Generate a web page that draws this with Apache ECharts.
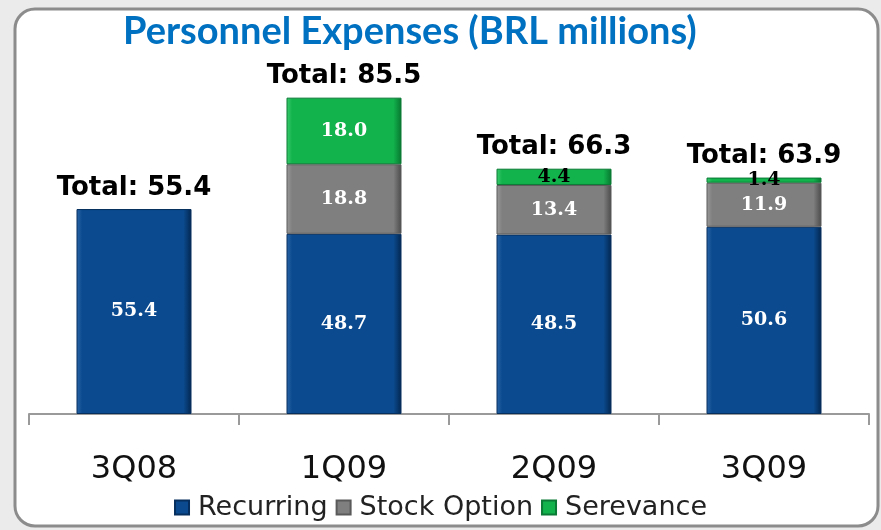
<!DOCTYPE html>
<html>
<head>
<meta charset="utf-8">
<script src="https://cdn.jsdelivr.net/npm/echarts@6/dist/echarts.min.js"></script>
<style>
  html, body { margin: 0; padding: 0; background: #ebebeb; }
  #chart { width: 881px; height: 530px; }
</style>
</head>
<body>
<div id="chart"></div>
<script>
// Personnel expenses, BRL millions
const categories = ['3Q08', '1Q09', '2Q09', '3Q09'];
const recurring = [55.4, 48.7, 48.5, 50.6];
const stockOption = [null, 18.8, 13.4, 11.9];
const serevance = [null, 18.0, 4.4, 1.4];
const totals = [55.4, 85.5, 66.3, 63.9];

// bevel-ish look: light left edge, dark right edge
function bevel(light, main, dark) {
  return {
    type: 'linear', x: 0, y: 0, x2: 1, y2: 0,
    colorStops: [
      { offset: 0, color: light },
      { offset: 0.05, color: main },
      { offset: 0.93, color: main },
      { offset: 1, color: dark }
    ]
  };
}

const valueLabel = {
  show: true,
  position: 'inside',
  color: '#fff',
  fontFamily: 'DejaVu Serif',
  fontWeight: 'bold',
  fontSize: 19,
  formatter: p => p.value == null ? '' : Number(p.value).toFixed(1)
};

const BAR_W = 115;

const chart = echarts.init(document.getElementById('chart'));
chart.setOption({
  animation: false,
  backgroundColor: '#ebebeb',
  graphic: [{
    type: 'rect',
    z: -10,
    silent: true,
    shape: { x: 15, y: 9, width: 863, height: 517, r: 20 },
    style: { fill: '#fff', stroke: '#8c8c8c', lineWidth: 3 }
  }],
  title: {
    text: 'Personnel Expenses (BRL millions)',
    left: 118,
    top: 8,
    textStyle: { color: '#0070c0', fontFamily: 'Lato', fontWeight: 'bold', fontSize: 38 }
  },
  legend: {
    data: ['Recurring', 'Stock Option', 'Serevance'],
    bottom: 4,
    left: 'center',
    icon: 'rect',
    itemWidth: 14,
    itemHeight: 14,
    itemGap: 8,
    textStyle: { fontFamily: 'DejaVu Sans', fontSize: 27, color: '#222', padding: [0, 0, 0, 4] }
  },
  grid: { left: 29, right: 12, top: 44, bottom: 116 },
  xAxis: {
    type: 'category',
    data: categories,
    axisLine: { lineStyle: { color: '#9a9a9a', width: 2 } },
    axisTick: { show: true, length: 11, lineStyle: { color: '#9a9a9a', width: 2 } },
    axisLabel: { margin: 40, fontFamily: 'DejaVu Sans', fontSize: 32, color: '#111' }
  },
  yAxis: { type: 'value', min: 0, max: 100, show: false, splitLine: { show: false } },
  series: [
    {
      name: 'Recurring', type: 'bar', stack: 'exp', barWidth: BAR_W,
      data: recurring,
      itemStyle: { color: bevel('#2a64a8', '#0b4a8e', '#03264f'), borderColor: '#062f5e', borderWidth: 1 },
      label: valueLabel
    },
    {
      name: 'Stock Option', type: 'bar', stack: 'exp', barWidth: BAR_W,
      data: stockOption,
      itemStyle: { color: bevel('#9a9a9a', '#7f7f7f', '#4a4a4a'), borderColor: '#5a5a5a', borderWidth: 1 },
      label: valueLabel
    },
    {
      name: 'Serevance', type: 'bar', stack: 'exp', barWidth: BAR_W,
      data: serevance.map(v => (v != null && v < 10) ? { value: v, label: { color: '#000' } } : v),
      itemStyle: { color: bevel('#3ccc6e', '#12b24c', '#07762f'), borderColor: '#0a7a35', borderWidth: 1 },
      label: valueLabel
    },
    {
      name: 'Total', type: 'bar', barWidth: BAR_W, barGap: '-100%', z: 1, silent: true,
      data: totals,
      itemStyle: { color: 'rgba(0,0,0,0)' },
      label: {
        show: true,
        position: 'top',
        distance: 8,
        color: '#000',
        fontFamily: 'DejaVu Sans',
        fontWeight: 'bold',
        fontSize: 26,
        formatter: p => 'Total: ' + p.value.toFixed(1)
      }
    }
  ]
});
</script>
</body>
</html>
